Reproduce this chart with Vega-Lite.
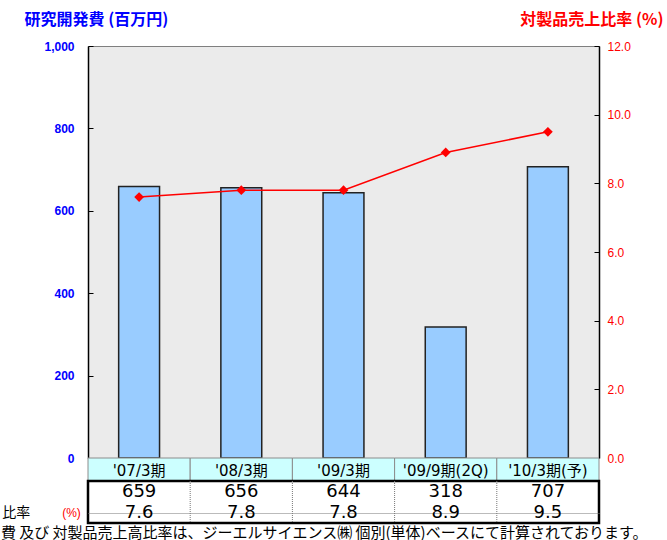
{
  "$schema": "https://vega.github.io/schema/vega-lite/v6.json",
  "padding": {"left": 0, "top": 10, "right": 5, "bottom": 0},
  "background": "white",
  "spacing": 0,
  "bounds": "flush",
  "config": {"view": {"stroke": null}},
  "title": {"text": "費 及び 対製品売上高比率は、ジーエルサイエンス㈱ 個別(単体)ベースにて計算されております。", "orient": "bottom", "anchor": "start", "frame": "bounds", "font": "Noto Sans CJK JP", "fontSize": 15, "fontWeight": "normal", "color": "black", "offset": 1},
  "datasets": {
    "rd": [
      {"cat": "'07/3期", "amount": 659, "ratio": 7.6},
      {"cat": "'08/3期", "amount": 656, "ratio": 7.8},
      {"cat": "'09/3期", "amount": 644, "ratio": 7.8},
      {"cat": "'09/9期(2Q)", "amount": 318, "ratio": 8.9},
      {"cat": "'10/3期(予)", "amount": 707, "ratio": 9.5}
    ]
  },
  "vconcat": [
    {
      "width": 511,
      "height": 412,
      "view": {"fill": "#EBEBEB", "stroke": "#7F7F7F", "strokeWidth": 1},
      "data": {"name": "rd"},
      "encoding": {
        "x": {"field": "cat", "type": "nominal", "sort": null,
          "scale": {"domain": ["'07/3期", "'08/3期", "'09/3期", "'09/9期(2Q)", "'10/3期(予)"], "paddingInner": 0.6, "paddingOuter": 0.3},
          "axis": null}
      },
      "layer": [
        {
          "mark": {"type": "bar", "fill": "#99CCFF", "stroke": "#222", "strokeWidth": 1.5},
          "encoding": {
            "y": {"field": "amount", "type": "quantitative",
              "scale": {"domain": [0, 1000], "nice": false},
              "axis": {"orient": "left", "values": [0, 200, 400, 600, 800, 1000], "format": ",.0f", "grid": false,
                "domainColor": "black", "domainWidth": 1.5, "tickColor": "black", "tickSize": -5, "labelPadding": 19,
                "labelColor": "#0000FF", "labelFont": "Liberation Sans", "labelFontSize": 12, "labelFontWeight": "bold",
                "title": "研究開発費 (百万円)", "titleAngle": 0, "titleAlign": "left", "titleBaseline": "middle",
                "titleX": -64, "titleY": -27, "titleColor": "#0000FF", "titleFont": "Noto Sans CJK JP", "titleFontSize": 16, "titleFontWeight": "bold"}}
          }
        },
        {
          "encoding": {
            "y": {"field": "ratio", "type": "quantitative",
              "scale": {"domain": [0, 12], "nice": false},
              "axis": {"orient": "right", "values": [0, 2, 4, 6, 8, 10, 12], "format": ".1f", "grid": false,
                "domainColor": "black", "domainWidth": 1.5, "tickColor": "black", "tickSize": -5, "labelPadding": 13,
                "labelColor": "#FF0000", "labelFont": "Liberation Sans", "labelFontSize": 12, "labelFontWeight": "normal",
                "title": "対製品売上比率 (%)", "titleAngle": 0, "titleAlign": "right", "titleBaseline": "middle",
                "titleX": 64, "titleY": -27, "titleColor": "#FF0000", "titleFont": "Noto Sans CJK JP", "titleFontSize": 16, "titleFontWeight": "bold"}}
          },
          "layer": [
            {"mark": {"type": "line", "color": "#FF0000", "strokeWidth": 1.5}},
            {"mark": {"type": "point", "shape": "diamond", "filled": true, "color": "#FF0000", "size": 95, "opacity": 1}}
          ]
        }
      ],
      "resolve": {"scale": {"y": "independent"}}
    },
    {
      "width": 511,
      "height": 23,
      "data": {"name": "rd"},
      "encoding": {
        "x": {"field": "cat", "type": "nominal", "sort": null,
          "scale": {"domain": ["'07/3期", "'08/3期", "'09/3期", "'09/9期(2Q)", "'10/3期(予)"], "paddingInner": 0, "paddingOuter": 0},
          "axis": null}
      },
      "layer": [
        {"mark": {"type": "rect", "fill": "#CCFFFF", "stroke": "#8C8C8C", "strokeWidth": 1}},
        {"mark": {"type": "text", "font": "DejaVu Sans, Noto Sans CJK JP", "fontSize": 15, "color": "black", "dy": 1},
          "encoding": {"text": {"field": "cat"}}}
      ]
    },
    {
      "width": 511,
      "height": 42,
      "view": {"fill": "white", "stroke": "black", "strokeWidth": 2.5},
      "data": {"name": "rd"},
      "layer": [
        {
          "transform": [{"filter": "datum.amount !== 659"}],
          "mark": {"type": "rule", "color": "#777", "strokeWidth": 1, "strokeDash": [1, 1]},
          "encoding": {
            "x": {"field": "cat", "type": "nominal", "bandPosition": 0,
              "scale": {"domain": ["'07/3期", "'08/3期", "'09/3期", "'09/9期(2Q)", "'10/3期(予)"], "paddingInner": 0, "paddingOuter": 0},
              "axis": null}
          }
        },
        {
          "transform": [{"fold": ["amount", "ratio"], "as": ["row", "val"]}],
          "mark": {"type": "text", "font": "DejaVu Sans", "fontSize": 18, "color": "black"},
          "encoding": {
            "x": {"field": "cat", "type": "nominal",
              "scale": {"domain": ["'07/3期", "'08/3期", "'09/3期", "'09/9期(2Q)", "'10/3期(予)"], "paddingInner": 0, "paddingOuter": 0},
              "axis": null},
            "y": {"field": "row", "type": "nominal",
              "scale": {"domain": ["amount", "ratio"], "paddingInner": 0, "paddingOuter": 0},
              "axis": {"grid": true, "bandPosition": 0, "gridColor": "#777", "gridDash": [1, 1],
                "gridOpacity": {"condition": {"test": "datum.value === 'amount'", "value": 0}, "value": 1},
                "labels": false, "ticks": false, "domain": false, "title": null}},
            "text": {"field": "val", "type": "quantitative"}
          }
        },
        {
          "data": {"values": [{"label": "比率"}]},
          "mark": {"type": "text", "align": "left", "font": "Noto Sans CJK JP", "fontSize": 14, "color": "black"},
          "encoding": {
            "x": {"datum": -0.84, "type": "quantitative", "scale": {"domain": [0, 5]}, "axis": null},
            "y": {"datum": "ratio", "type": "nominal", "scale": {"domain": ["amount", "ratio"], "paddingInner": 0, "paddingOuter": 0}},
            "text": {"field": "label"}
          }
        },
        {
          "data": {"values": [{"label": "(%)"}]},
          "mark": {"type": "text", "align": "right", "font": "Liberation Sans", "fontSize": 12, "color": "#FF0000"},
          "encoding": {
            "x": {"datum": -0.07, "type": "quantitative", "scale": {"domain": [0, 5]}, "axis": null},
            "y": {"datum": "ratio", "type": "nominal", "scale": {"domain": ["amount", "ratio"], "paddingInner": 0, "paddingOuter": 0}},
            "text": {"field": "label"}
          }
        }
      ],
      "resolve": {"scale": {"x": "independent"}}
    }
  ]
}
